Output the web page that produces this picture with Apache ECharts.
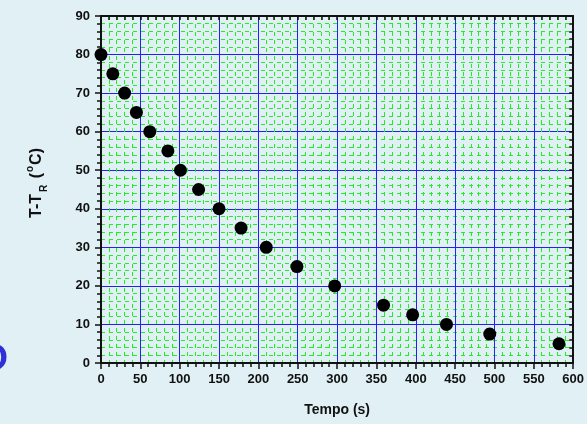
<!DOCTYPE html>
<html>
<head>
<meta charset="utf-8">
<script src="https://cdn.jsdelivr.net/npm/echarts@6/dist/echarts.min.js"></script>
<style>
html,body{margin:0;padding:0;background:#e1f0f5;}
#chart{width:587px;height:424px;}
</style>
</head>
<body>
<div id="chart"></div>
<script>
var timeValues = [0, 15, 30, 45, 62, 85, 101, 124, 150, 178, 210, 249, 297, 359, 396, 439, 494, 582];
var tempValues = [80, 75, 70, 65, 60, 55, 50, 45, 40, 35, 30, 25, 20, 15, 12.5, 10, 7.5, 5];
var xTitle = 'Tempo (s)';
var yTitle = 'T-T{sub|R} ({sup|o}C)';

var points = timeValues.map(function (t, i) { return [t, tempValues[i]]; });
var FONT = '"Liberation Sans", Arial, sans-serif';

var chart = echarts.init(document.getElementById('chart'), null, {renderer: 'canvas'});
var axisLine = {show: true, onZero: false, lineStyle: {color: '#111', width: 2}};
chart.setOption({
  backgroundColor: '#e1f0f5',
  animation: false,
  grid: {left: 101, right: 13, top: 16, bottom: 61, containLabel: false},
  xAxis: [{
    type: 'value', position: 'bottom', min: 0, max: 600, interval: 50,
    axisLine: axisLine,
    axisTick: {show: true, inside: false, length: 6, lineStyle: {color: '#111', width: 1.5}},
    minorTick: {show: true, splitNumber: 5, length: 4, lineStyle: {color: '#111', width: 1.5}},
    axisLabel: {color: '#111', fontFamily: FONT, fontWeight: 'bold', fontSize: 13, margin: 10},
    splitLine: {show: true, lineStyle: {color: '#2323f0', width: 1}},
    minorSplitLine: {show: true, lineStyle: {color: '#22ee22', width: 1, type: [4, 4]}},
    name: xTitle, nameLocation: 'middle', nameGap: 40,
    nameTextStyle: {color: '#111', fontFamily: FONT, fontWeight: 'bold', fontSize: 14}
  }, {
    type: 'value', position: 'top', min: 0, max: 600, interval: 50,
    axisLine: axisLine,
    axisTick: {show: true, inside: true, length: 4, lineStyle: {color: '#111', width: 1.5}},
    minorTick: {show: true, splitNumber: 5, length: 4, lineStyle: {color: '#111', width: 1.5}},
    axisLabel: {show: false}, splitLine: {show: false}
  }],
  yAxis: [{
    type: 'value', position: 'left', min: 0, max: 90, interval: 10,
    axisLine: axisLine,
    axisTick: {show: true, inside: false, length: 6, lineStyle: {color: '#111', width: 1.5}},
    minorTick: {show: true, splitNumber: 5, length: 4, lineStyle: {color: '#111', width: 1.5}},
    axisLabel: {color: '#111', fontFamily: FONT, fontWeight: 'bold', fontSize: 13, margin: 11},
    splitLine: {show: true, lineStyle: {color: '#2323f0', width: 1}},
    minorSplitLine: {show: true, lineStyle: {color: '#22ee22', width: 1, type: [4, 4]}}
  }, {
    type: 'value', position: 'right', min: 0, max: 90, interval: 10,
    axisLine: axisLine,
    axisTick: {show: true, inside: true, length: 4, lineStyle: {color: '#111', width: 1.5}},
    minorTick: {show: true, splitNumber: 5, length: 4, lineStyle: {color: '#111', width: 1.5}},
    axisLabel: {show: false}, splitLine: {show: false}
  }],
  series: [{
    type: 'scatter', xAxisIndex: 0, yAxisIndex: 0,
    data: points, symbol: 'circle', symbolSize: 13,
    itemStyle: {color: '#000', opacity: 1}, clip: false, z: 5
  }],
  graphic: [{
    type: 'text', x: 37, y: 183, rotation: Math.PI / 2,
    style: {
      text: yTitle, fill: '#111', font: 'bold 16px ' + FONT,
      fontFamily: FONT, fontWeight: 'bold', fontSize: 16,
      align: 'center', verticalAlign: 'middle', lineHeight: 24,
      rich: {
        sub: {fontSize: 10, fontWeight: 'bold', fontFamily: FONT, fill: '#111', verticalAlign: 'bottom', lineHeight: 24, padding: [0, 2, 0, 2]},
        sup: {fontSize: 10, fontWeight: 'bold', fontFamily: FONT, fill: '#111', verticalAlign: 'top', lineHeight: 24, padding: [0, 1, 0, 1]}
      }
    }
  }, {
    type: 'text', x: 8, y: 360,
    style: {text: 'O', fill: '#3030d8', font: 'bold 36px ' + FONT, align: 'right', verticalAlign: 'middle'}
  }]
});
</script>
</body>
</html>
